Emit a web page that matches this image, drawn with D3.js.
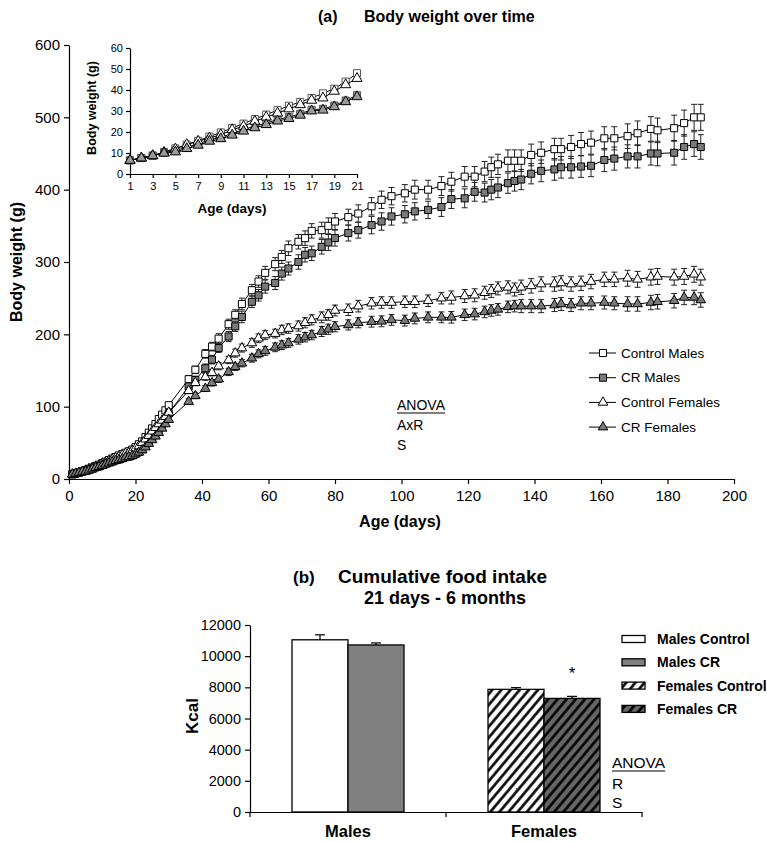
<!DOCTYPE html>
<html>
<head>
<meta charset="utf-8">
<script src="https://cdn.jsdelivr.net/npm/d3@7"></script>
<style>
body { margin: 0; background: #fff; }
svg text { font-family: "Liberation Sans", Arial, Helvetica, sans-serif; fill: #000; }
</style>
</head>
<body>
<div id="chart"></div>
<script>
// ---- data: body weight (g) per age (days) ----
var days = [1,2,3,4,5,6,7,8,9,10,11,12,13,14,15,16,17,18,19,20,21,
            22,23,24,25,26,27,28,29,30,
            36,38,41,43,45,48,50,52,55,57,
            59,62,64,66,69,71,73,76,78,80,84,87,91,
            94,97,101,104,108,112,115,119,122,125,127,129,132,134,136,139,142,146,148,151,154,157,161,164,168,171,175,177,182,185,188,190];

var controlMales = [6.5,7.6,8.8,10.5,12.2,14,15.8,17.8,19.8,21.9,24,26.2,28.3,30.4,32.5,34.3,36.2,38.4,40.6,44,48,
                    52,58,64,70,76,83,89,95,102,
                    138,151,173,183,194,214,227,242,261,273,
                    285,297,307,319,328,333,343,344,350,356,362,367,377,
                    386,391,395,400,400,405,411,418,418,425,431,435,440,440,440,448,451,456,456,459,463,465,471,471,474,478,484,482,485,492,500,500];
var crMales = [6.5,7.6,8.7,10.1,11.2,12.7,14.3,16.2,17.5,19.3,21.2,22.8,24.2,26,27.1,28.7,30.6,31,32.6,35,37.5,
               41,46,51,57,63,69,76,83,91,
               128,137,153,165,181,197,211,224,245,254,
               266,271,284,291,300,310,312,321,327,333,340,344,351,
               356,363,366,370,372,376,387,388,397,396,400,403,409,412,414,422,426,428,431,431,432,433,441,443,446,446,450,450,451,459,463,459];
var controlFemales = [6.5,7.6,8.7,10.3,11.9,14,15.6,17.1,18.7,21.1,22.7,25.1,27.1,29,31,33,35.1,36.2,39.4,42.5,45.5,
                      50,55,60,66,71,76,81,86,92,
                      122,133,141,147,156,164.5,174,181,188,194.5,
                      199,201,206,208,211.5,216,220,223.5,227,233,234,239,243,
                      244,244,245,245,246.5,250,251,253,254,257.5,260,263.5,265,262,265,267,269.5,269.5,271,269.5,270.5,273,276,276,277.5,276,279,280,279,280,283,279];
var crFemales = [6.5,7.6,8.7,9.9,10.5,12.1,13.7,15.6,16.8,18.5,20.4,22,23.5,25.2,26.4,28,30,30.4,32,34.4,36.8,
                 40,44,49,54,59,64,70,76,82,
                 107,115,125,133,138,148,155,160,167,173,
                 177,182,185,188,193,196,199,204,207,210.5,213,216,217.5,
                 218,220,219,222,223.5,223.5,223.5,227,228,231,233,234.5,238,239,239,239,239,240.5,242,240.5,243,243,244,243,242,242,244,245,246.5,251,251,247.5];

// standard errors (g)
var controlMalesErr = [0.4,0.4,0.5,0.5,0.6,0.6,0.7,0.7,0.8,0.8,0.9,0.9,1,1,1.1,1.2,1.2,1.3,1.4,1.5,1.6,
                       2,2,2.5,3,3,3.5,4,4,4.5,
                       5,5,6,6,7,7,7,8,8,8,
                       9,9,9,10,10,10,10,11,11,11,11,12,12,
                       12,12,12,13,13,13,13,14,14,14,14,14,15,15,15,15,15,15,15,16,16,16,16,16,17,17,17,17,18,18,18,18];
var crMalesErr = [0.4,0.4,0.5,0.5,0.5,0.6,0.6,0.7,0.7,0.8,0.8,0.9,0.9,1,1,1.1,1.1,1.2,1.2,1.3,1.4,
                  2,2,2.5,2.5,3,3,3.5,4,4,
                  5,5,6,6,6,7,7,8,8,8,
                  9,9,9,9,10,10,10,10,11,11,11,11,12,
                  12,12,12,12,12,13,13,13,13,13,14,14,14,14,14,14,15,15,15,15,15,15,16,16,16,16,16,17,17,17,17,17];
var controlFemalesErr = [0.3,0.3,0.4,0.4,0.5,0.5,0.6,0.6,0.7,0.7,0.8,0.8,0.9,0.9,1,1,1.1,1.1,1.2,1.2,1.3,
                         1.5,1.5,2,2,2.5,2.5,3,3,3.5,
                         4,4,4.5,4.5,5,5,5.5,5.5,6,6,
                         6,6,6.5,6.5,7,7,7,7.5,7.5,7.5,8,8,8,
                         8,8,8,8,8,8,9,9,9,9,9,9,9,9,10,10,10,10,10,10,10,10,10,10,11,11,11,11,11,11,11,11];
var crFemalesErr = [0.3,0.3,0.4,0.4,0.5,0.5,0.6,0.6,0.7,0.7,0.8,0.8,0.9,0.9,1,1,1.1,1.1,1.2,1.2,1.3,
                    1.5,1.5,2,2,2.5,2.5,3,3,3.5,
                    4,4,4,4.5,4.5,5,5,5,5.5,5.5,
                    6,6,6,6,6.5,6.5,6.5,7,7,7,7,7,7.5,
                    7.5,7.5,7.5,7.5,7.5,7.5,8,8,8,8,8,8,8,8,9,9,9,9,9,9,9,9,9,9,10,10,10,10,10,10,10,10];

var seriesNames = ["Control Males", "CR Males", "Control Females", "CR Females"];
var xTicks = [0,20,40,60,80,100,120,140,160,180,200];
var yTicks = [0,100,200,300,400,500,600];
var insetXTicks = [1,3,5,7,9,11,13,15,17,19,21];
var insetYTicks = [0,10,20,30,40,50,60];

// ---- data: cumulative food intake (kcal) ----
var barGroups = ["Males", "Females"];
var barTreatments = ["Control", "CR"];
var barValues = [[11050, 10720], [7870, 7290]];
var barErrors = [[320, 130], [110, 130]];
var barLegend = ["Males Control", "Males CR", "Females Control", "Females CR"];
var barTicks = [0,2000,4000,6000,8000,10000,12000];

// ---- styles ----
var shapes = [d3.symbolSquare, d3.symbolSquare, d3.symbolTriangle, d3.symbolTriangle];
var fills = ["#fff", "#7a7a7a", "#fff", "#7a7a7a"];
var insetFills = ["#fff", "#9a9a9a", "#fff", "#9a9a9a"];
var barFills = ["#fff", "#808080", "url(#hatchWhite)", "url(#hatchGray)"];

var width = 767, height = 841;
var svg = d3.select("#chart").append("svg")
            .attr("width", width)
            .attr("height", height);

var defs = svg.append("defs");
function hatch(id, bg) {
  var p = defs.append("pattern")
              .attr("id", id)
              .attr("patternUnits", "userSpaceOnUse")
              .attr("width", 7).attr("height", 7)
              .attr("patternTransform", "rotate(40)");
  p.append("rect").attr("width", 7).attr("height", 7).attr("fill", bg);
  p.append("line").attr("x1", 1.5).attr("x2", 1.5).attr("y1", 0).attr("y2", 7)
   .attr("stroke", "#000").attr("stroke-width", 2.6);
}
hatch("hatchWhite", "#fff");
hatch("hatchGray", "#666");

var series = seriesNames.map(function(name, i) {
  var vals = [controlMales, crMales, controlFemales, crFemales][i];
  var errs = [controlMalesErr, crMalesErr, controlFemalesErr, crFemalesErr][i];
  return {
    name: name,
    points: days.map(function(d, j) { return {day: d, v: vals[j], e: errs[j]}; })
  };
});

function styleAxis(g, size) {
  g.attr("font-size", size).attr("font-family", "'Liberation Sans',Arial,sans-serif");
  g.selectAll("path, line").attr("stroke", "#000").attr("stroke-width", 1.2);
  g.selectAll("text").attr("fill", "#000");
}

// ================= (a) main chart =================
var xMain = d3.scaleLinear().domain([0, 200]).range([69, 734]);
var yMain = d3.scaleLinear().domain([0, 600]).range([479, 45]);

svg.append("g").attr("transform", "translate(0,479)")
   .call(d3.axisBottom(xMain).tickValues(xTicks).tickSize(5).tickSizeOuter(0).tickPadding(6))
   .call(styleAxis, 15);
svg.append("g").attr("transform", "translate(69,0)")
   .call(d3.axisLeft(yMain).tickValues(yTicks).tickSize(5).tickSizeOuter(0).tickPadding(4))
   .call(styleAxis, 15);

var lineMain = d3.line().x(function(d) { return xMain(d.day); }).y(function(d) { return yMain(d.v); });

series.forEach(function(s, i) {
  var g = svg.append("g");
  var eb = g.selectAll("g.err").data(s.points.filter(function(p) { return p.day > 30; }))
            .enter().append("g").attr("class", "err");
  eb.append("line")
    .attr("x1", function(d) { return xMain(d.day); }).attr("x2", function(d) { return xMain(d.day); })
    .attr("y1", function(d) { return yMain(d.v + d.e); }).attr("y2", function(d) { return yMain(d.v - d.e); });
  eb.append("line")
    .attr("x1", function(d) { return xMain(d.day) - 3; }).attr("x2", function(d) { return xMain(d.day) + 3; })
    .attr("y1", function(d) { return yMain(d.v + d.e); }).attr("y2", function(d) { return yMain(d.v + d.e); });
  eb.append("line")
    .attr("x1", function(d) { return xMain(d.day) - 3; }).attr("x2", function(d) { return xMain(d.day) + 3; })
    .attr("y1", function(d) { return yMain(d.v - d.e); }).attr("y2", function(d) { return yMain(d.v - d.e); });
  eb.selectAll("line").attr("stroke", "#222").attr("stroke-width", 1);

  g.append("path").datum(s.points).attr("d", lineMain)
   .attr("fill", "none").attr("stroke", "#000").attr("stroke-width", 1);

  g.selectAll("path.mk").data(s.points).enter().append("path").attr("class", "mk")
   .attr("transform", function(d) { return "translate(" + xMain(d.day) + "," + yMain(d.v) + ")"; })
   .attr("d", d3.symbol().type(shapes[i]).size(i < 2 ? 50 : 40))
   .attr("fill", fills[i]).attr("stroke", "#000").attr("stroke-width", 1);
});

svg.append("text").attr("x", 400).attr("y", 527).attr("text-anchor", "middle")
   .attr("font-weight", "bold").attr("font-size", 16).text("Age (days)");
svg.append("text").attr("transform", "translate(22,262) rotate(-90)").attr("text-anchor", "middle")
   .attr("font-weight", "bold").attr("font-size", 16).text("Body weight (g)");

svg.append("text").attr("x", 318).attr("y", 22).attr("font-weight", "bold").attr("font-size", 16).text("(a)");
svg.append("text").attr("x", 364).attr("y", 22).attr("font-weight", "bold").attr("font-size", 16).text("Body weight over time");

// legend
var legend = svg.append("g");
seriesNames.forEach(function(name, i) {
  var ly = 353 + i * 24.7;
  legend.append("line").attr("x1", 589).attr("x2", 616).attr("y1", ly).attr("y2", ly)
        .attr("stroke", "#000").attr("stroke-width", 1);
  legend.append("path").attr("transform", "translate(603," + ly + ")")
        .attr("d", d3.symbol().type(shapes[i]).size(i < 2 ? 50 : 40))
        .attr("fill", fills[i]).attr("stroke", "#000");
  legend.append("text").attr("x", 621).attr("y", ly).attr("dy", "0.35em")
        .attr("font-size", 13.5).text(name);
});

// ANOVA note
var anova = svg.append("text").attr("x", 397).attr("y", 410).attr("font-size", 14).text("ANOVA");
var aw = anova.node().getComputedTextLength();
svg.append("line").attr("x1", 397).attr("x2", 397 + aw).attr("y1", 413).attr("y2", 413)
   .attr("stroke", "#000").attr("stroke-width", 1);
svg.append("text").attr("x", 397).attr("y", 430).attr("font-size", 14).text("AxR");
svg.append("text").attr("x", 397).attr("y", 450).attr("font-size", 14).text("S");

// ================= inset =================
var xIn = d3.scaleLinear().domain([1, 21]).range([130, 357]);
var yIn = d3.scaleLinear().domain([0, 60]).range([174, 48]);

svg.append("g").attr("transform", "translate(0,174)")
   .call(d3.axisBottom(xIn).tickValues(insetXTicks).tickSize(4).tickSizeOuter(0).tickPadding(4))
   .call(styleAxis, 11);
svg.append("g").attr("transform", "translate(130,0)")
   .call(d3.axisLeft(yIn).tickValues(insetYTicks).tickSize(4).tickSizeOuter(0).tickPadding(3))
   .call(styleAxis, 11);

var lineIn = d3.line().x(function(d) { return xIn(d.day); }).y(function(d) { return yIn(d.v); });
series.forEach(function(s, i) {
  var pts = s.points.filter(function(p) { return p.day <= 21; });
  var g = svg.append("g");
  g.append("path").datum(pts).attr("d", lineIn)
   .attr("fill", "none").attr("stroke", "#000").attr("stroke-width", 1);
  g.selectAll("path.mk").data(pts).enter().append("path").attr("class", "mk")
   .attr("transform", function(d) { return "translate(" + xIn(d.day) + "," + yIn(d.v) + ")"; })
   .attr("d", d3.symbol().type(shapes[i]).size(i < 2 ? 50 : 45))
   .attr("fill", insetFills[i]).attr("stroke", i < 2 ? "#555" : "#000").attr("stroke-width", 1);
});
svg.append("text").attr("x", 232).attr("y", 213).attr("text-anchor", "middle")
   .attr("font-weight", "bold").attr("font-size", 13.5).text("Age (days)");
svg.append("text").attr("transform", "translate(96,108) rotate(-90)").attr("text-anchor", "middle")
   .attr("font-weight", "bold").attr("font-size", 12.5).text("Body weight (g)");

// ================= (b) bar chart =================
var xBar = d3.scaleBand().domain(barGroups).range([250, 642]);
var xSub = d3.scaleBand().domain(barTreatments).range([0, xBar.bandwidth()]).paddingOuter(0.75);
var yBar = d3.scaleLinear().domain([0, 12000]).range([812, 625]);

svg.append("text").attr("x", 293).attr("y", 583).attr("font-weight", "bold").attr("font-size", 17).text("(b)");
svg.append("text").attr("x", 338).attr("y", 583).attr("font-weight", "bold").attr("font-size", 19).text("Cumulative food intake");
svg.append("text").attr("x", 445).attr("y", 604).attr("text-anchor", "middle").attr("font-weight", "bold").attr("font-size", 18).text("21 days - 6 months");

var bars = svg.append("g");
barGroups.forEach(function(grp, gi) {
  barTreatments.forEach(function(tr, ti) {
    var k = gi * 2 + ti;
    var bx = xBar(grp) + xSub(tr);
    var cx = bx + xSub.bandwidth() / 2;
    var v = barValues[gi][ti], e = barErrors[gi][ti];
    bars.append("line").attr("x1", cx).attr("x2", cx)
        .attr("y1", yBar(v)).attr("y2", yBar(v + e)).attr("stroke", "#000").attr("stroke-width", 1.2);
    bars.append("line").attr("x1", cx - 5).attr("x2", cx + 5)
        .attr("y1", yBar(v + e)).attr("y2", yBar(v + e)).attr("stroke", "#000").attr("stroke-width", 1.2);
    bars.append("rect").attr("x", bx).attr("y", yBar(v))
        .attr("width", xSub.bandwidth()).attr("height", yBar(0) - yBar(v))
        .attr("fill", barFills[k]).attr("stroke", "#000").attr("stroke-width", 1.3);
  });
});

svg.append("g").attr("transform", "translate(0,812)")
   .call(d3.axisBottom(xBar).tickValues([]).tickSize(0).tickSizeOuter(0))
   .call(styleAxis, 14);
// ticks at category boundaries
svg.append("g").selectAll("line").data(xBar.domain().concat(["end"])).enter().append("line")
   .attr("x1", function(d) { return d === "end" ? xBar.range()[1] : xBar(d); })
   .attr("x2", function(d) { return d === "end" ? xBar.range()[1] : xBar(d); })
   .attr("y1", 812).attr("y2", 817).attr("stroke", "#000").attr("stroke-width", 1.2);
svg.append("g").selectAll("text").data(barGroups).enter().append("text")
   .attr("x", function(d) { return xBar(d) + xBar.bandwidth() / 2; })
   .attr("y", 837).attr("text-anchor", "middle").attr("font-weight", "bold").attr("font-size", 16.5)
   .text(function(d) { return d; });

svg.append("g").attr("transform", "translate(250,0)")
   .call(d3.axisLeft(yBar).tickValues(barTicks).tickFormat(d3.format("d")).tickSize(5).tickSizeOuter(0).tickPadding(4))
   .call(styleAxis, 14.5);

svg.append("text").attr("transform", "translate(198,716) rotate(-90)").attr("text-anchor", "middle")
   .attr("font-weight", "bold").attr("font-size", 17).text("Kcal");

svg.append("text").attr("x", xBar("Females") + xSub("CR") + xSub.bandwidth() / 2)
   .attr("y", 679).attr("text-anchor", "middle").attr("font-size", 17).text("*");

barLegend.forEach(function(name, i) {
  var ly = 639 + i * 23.3;
  svg.append("rect").attr("x", 622).attr("y", ly - 3.5).attr("width", 23).attr("height", 7)
     .attr("fill", barFills[i]).attr("stroke", "#000").attr("stroke-width", 1.3);
  svg.append("text").attr("x", 657).attr("y", ly).attr("dy", "0.35em")
     .attr("font-weight", "bold").attr("font-size", 14).text(name);
});

var anovaB = svg.append("text").attr("x", 612).attr("y", 768).attr("font-size", 15.5).text("ANOVA");
var bw = anovaB.node().getComputedTextLength();
svg.append("line").attr("x1", 612).attr("x2", 612 + bw).attr("y1", 771).attr("y2", 771)
   .attr("stroke", "#000").attr("stroke-width", 1);
svg.append("text").attr("x", 612).attr("y", 789).attr("font-size", 15.5).text("R");
svg.append("text").attr("x", 612).attr("y", 808).attr("font-size", 15.5).text("S");
</script>
</body>
</html>
